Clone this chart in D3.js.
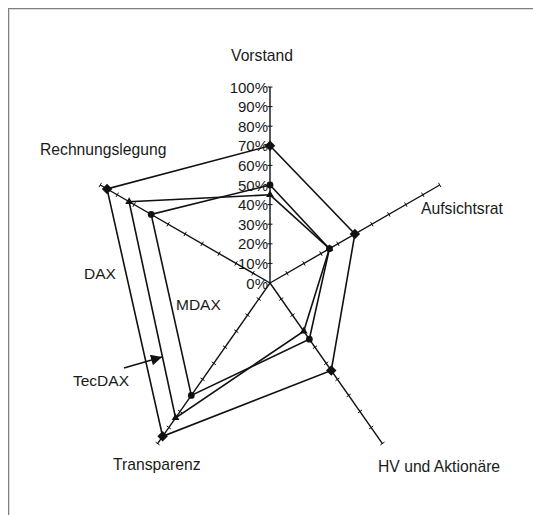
<!DOCTYPE html>
<html>
<head>
<meta charset="utf-8">
<script src="https://cdn.jsdelivr.net/npm/d3@7"></script>
<style>
  html, body { margin: 0; padding: 0; background: #fff; }
  svg { display: block; }
  text { font-family: "Liberation Sans", Arial, sans-serif; fill: #1a1a1a; }
</style>
</head>
<body>
<svg id="chart" width="533" height="515"></svg>
<script>
// ---- data ----
const categories = ["Vorstand", "Aufsichtsrat", "HV und Aktionäre", "Transparenz", "Rechnungslegung"];
const seriesNames = ["DAX", "MDAX", "TecDAX"];
const daxValues    = [0.70, 0.50, 0.545, 0.955, 0.96];
const mdaxValues   = [0.50, 0.35, 0.35, 0.70, 0.70];
const tecdaxValues = [0.45, 0.35, 0.30, 0.84, 0.83];
const tickValues = [0, 0.1, 0.2, 0.3, 0.4, 0.5, 0.6, 0.7, 0.8, 0.9, 1.0];
const tickLabels = ["0%", "10%", "20%", "30%", "40%", "50%", "60%", "70%", "80%", "90%", "100%"];

// ---- layout ----
const cx = 270, cy = 283, R = 196;
const axisAngles = [0, 60, 145, 215, 300]; // degrees clockwise from up
const svg = d3.select("#chart");

// frame
svg.append("line").attr("x1", 9.5).attr("y1", 9.5).attr("x2", 533).attr("y2", 9.5).attr("stroke", "#dcdcdc");
svg.append("line").attr("x1", 9.5).attr("y1", 9.5).attr("x2", 9.5).attr("y2", 515).attr("stroke", "#dcdcdc");
svg.append("line").attr("x1", 8).attr("y1", 8.5).attr("x2", 533).attr("y2", 8.5).attr("stroke", "#808080");
svg.append("line").attr("x1", 8.5).attr("y1", 8).attr("x2", 8.5).attr("y2", 515).attr("stroke", "#808080");

const r = d3.scaleLinear().domain([0, 1]).range([0, R]);
const rad = a => a * Math.PI / 180;
function pt(i, v) {
  const a = rad(axisAngles[i]);
  return [cx + r(v) * Math.sin(a), cy - r(v) * Math.cos(a)];
}

const g = svg.append("g");

// axes
categories.forEach((c, i) => {
  const [x2, y2] = pt(i, 1);
  g.append("line").attr("x1", cx).attr("y1", cy).attr("x2", x2).attr("y2", y2)
    .attr("stroke", "#111").attr("stroke-width", 1.4);
  const a = rad(axisAngles[i]);
  const px = Math.cos(a), py = Math.sin(a); // perpendicular
  tickValues.slice(1).forEach(t => {
    const [x, y] = pt(i, t);
    g.append("line").attr("x1", x - px * 2.5).attr("y1", y - py * 2.5)
      .attr("x2", x + px * 2.5).attr("y2", y + py * 2.5)
      .attr("stroke", "#111").attr("stroke-width", 1);
  });
});

// percent labels along vertical axis
g.selectAll("text.tick").data(tickValues).enter().append("text")
  .attr("class", "tick")
  .attr("x", cx - 2)
  .attr("y", d => cy - r(d) + 5.5)
  .attr("text-anchor", "end")
  .attr("font-size", 15)
  .text((d, i) => tickLabels[i]);

// series
const series = [
  { name: seriesNames[0], values: daxValues, marker: "diamond" },
  { name: seriesNames[1], values: mdaxValues, marker: "circle" },
  { name: seriesNames[2], values: tecdaxValues, marker: "triangle" }
];
const line = d3.line().curve(d3.curveLinearClosed);
series.forEach(s => {
  const pts = s.values.map((v, i) => pt(i, v));
  g.append("path").attr("d", line(pts)).attr("fill", "none")
    .attr("stroke", "#111").attr("stroke-width", 1.6);
  const sym = s.marker === "diamond" ? d3.symbol().type(d3.symbolSquare).size(55)
            : s.marker === "circle" ? d3.symbol().type(d3.symbolCircle).size(36)
            : d3.symbol().type(d3.symbolTriangle).size(26);
  pts.forEach(p => {
    g.append("path").attr("d", sym())
      .attr("transform", `translate(${p[0]},${p[1]})` + (s.marker === "diamond" ? " rotate(45)" : ""))
      .attr("fill", "#111");
  });
});

// category labels
const catLabelPos = [
  { x: 262, y: 61, anchor: "middle" },
  { x: 421, y: 214, anchor: "start" },
  { x: 378, y: 472, anchor: "start" },
  { x: 113, y: 470, anchor: "start" },
  { x: 40, y: 155, anchor: "start" }
];
categories.forEach((c, i) => {
  g.append("text").attr("x", catLabelPos[i].x).attr("y", catLabelPos[i].y)
    .attr("text-anchor", catLabelPos[i].anchor).attr("font-size", 15.7).text(c);
});

// series labels
const seriesLabelPos = [{ x: 84, y: 279 }, { x: 176, y: 310 }, { x: 73, y: 386 }];
seriesNames.forEach((n, i) => {
  g.append("text").attr("x", seriesLabelPos[i].x).attr("y", seriesLabelPos[i].y)
    .attr("font-size", 15.5).text(n);
});

// arrow pointing to TecDAX line
svg.append("defs").append("marker").attr("id", "ah")
  .attr("viewBox", "0 0 10 10").attr("refX", 10).attr("refY", 5)
  .attr("markerWidth", 14).attr("markerHeight", 11).attr("markerUnits", "userSpaceOnUse")
  .attr("orient", "auto")
  .append("path").attr("d", "M0,0 L10,5 L0,10 Z").attr("fill", "#111");
g.append("line").attr("x1", 124).attr("y1", 368).attr("x2", 162).attr("y2", 357)
  .attr("stroke", "#111").attr("stroke-width", 1.5).attr("marker-end", "url(#ah)");
</script>
</body>
</html>
